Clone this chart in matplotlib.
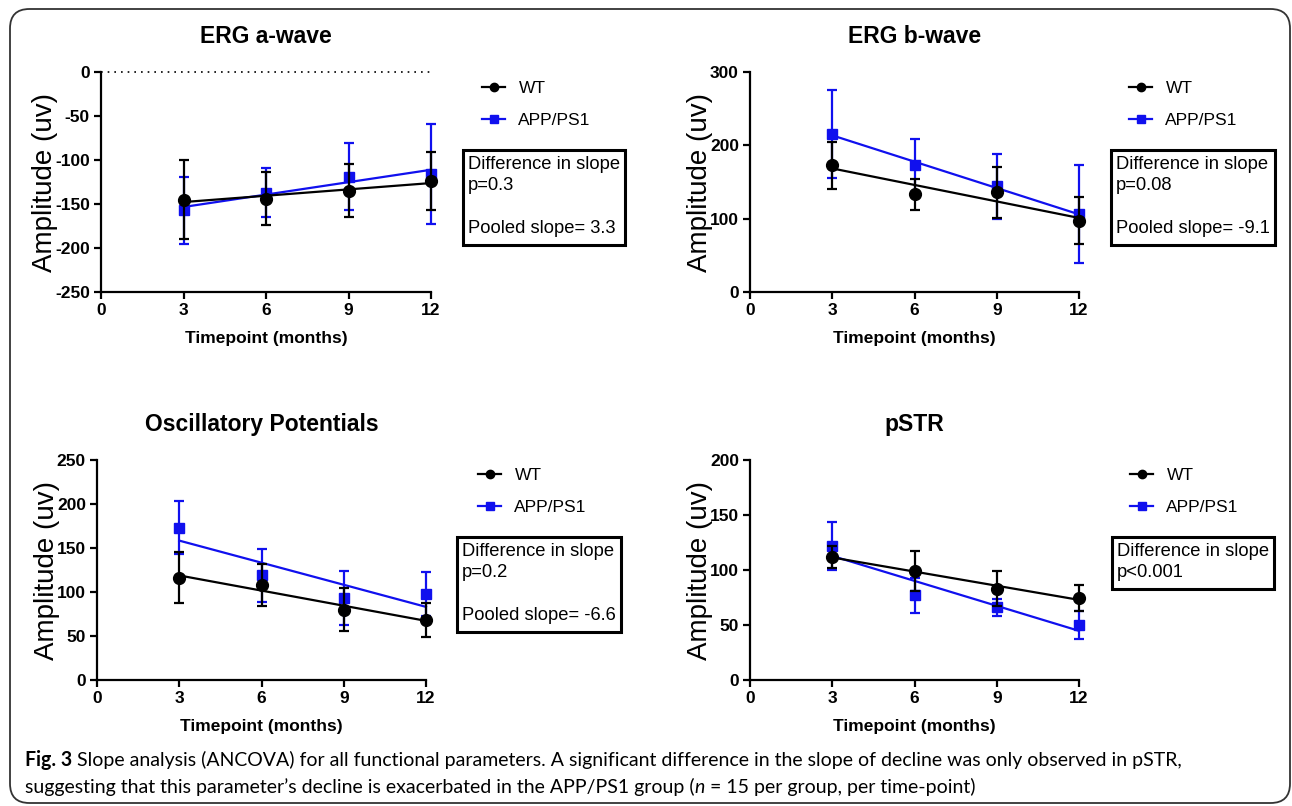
import numpy as np
import matplotlib
matplotlib.use("Agg")
import matplotlib.pyplot as plt
from matplotlib.lines import Line2D
from matplotlib.patches import FancyBboxPatch, Rectangle
from matplotlib import font_manager

# ---------------- data ----------------
timepoints = [3, 6, 9, 12]
series_names = ["WT", "APP/PS1"]

awave_wt = [-145, -144, -135, -124]
awave_wt_err = [45, 30, 30, 33]
awave_app = [-157, -137, -119, -116]
awave_app_err = [38, 28, 38, 57]

bwave_wt = [173, 133, 136, 97]
bwave_wt_err = [32, 21, 35, 32]
bwave_app = [216, 173, 144, 106]
bwave_app_err = [60, 36, 44, 67]

op_wt = [116, 108, 80, 68]
op_wt_err = [29, 24, 24, 19]
op_app = [173, 119, 93, 98]
op_app_err = [30, 30, 31, 25]

pstr_wt = [112, 99, 83, 74.5]
pstr_wt_err = [10, 18, 16, 12]
pstr_app = [122, 77, 66, 50]
pstr_app_err = [22, 16, 8, 13]

titles = ["ERG a-wave", "ERG b-wave", "Oscillatory Potentials", "pSTR"]
stats_texts = [
    "Difference in slope\np=0.3\n\nPooled slope= 3.3",
    "Difference in slope\np=0.08\n\nPooled slope= -9.1",
    "Difference in slope\np=0.2\n\nPooled slope= -6.6",
    "Difference in slope\np<0.001",
]
ylims = [(-250, 0), (0, 300), (0, 250), (0, 200)]
yticks = [[-250, -200, -150, -100, -50, 0], [0, 100, 200, 300],
          [0, 50, 100, 150, 200, 250], [0, 50, 100, 150, 200]]
xticks = [0, 3, 6, 9, 12]

# ---------------- layout ----------------
W, H = 1292, 806
plt.rcParams['font.family'] = ['Liberation Sans', 'DejaVu Sans']
plt.rcParams['axes.unicode_minus'] = False
fig = plt.figure(figsize=(W / 100, H / 100), dpi=100)
renderer = fig.canvas.get_renderer()

def fx(px):
    return px / W

def fy(py):
    return 1 - py / H

# axes rects in pixels: (left, top, right, bottom)
rects = [(101, 72, 431, 292), (750, 72, 1079, 292),
         (97, 460, 426, 680), (750, 460, 1079, 680)]
legend_pos = [(482, 81), (1129, 81), (478, 468), (1130, 468)]
box_pos = [(468, 156), (1116, 156), (462, 543), (1117, 543)]

BLUE = "#1010ee"
data = [
    (awave_wt, awave_wt_err, awave_app, awave_app_err),
    (bwave_wt, bwave_wt_err, bwave_app, bwave_app_err),
    (op_wt, op_wt_err, op_app, op_app_err),
    (pstr_wt, pstr_wt_err, pstr_app, pstr_app_err),
]

x = np.array(timepoints, dtype=float)
for i, (l, t, r, b) in enumerate(rects):
    ax = fig.add_axes([fx(l), fy(b), fx(r - l), (b - t) / H])
    wt, wte, app, appe = data[i]
    for vals, errs, color, marker, ms, z in [
        (app, appe, BLUE, "s", 7.5, 3),
        (wt, wte, "black", "o", 8.5, 4),
    ]:
        vals = np.array(vals, dtype=float)
        ax.errorbar(x, vals, yerr=errs, fmt=marker, color=color, ms=ms,
                    ecolor=color, elinewidth=1.6, capsize=3.8, capthick=1.6,
                    clip_on=False, zorder=z)
        k, c = np.polyfit(x, vals, 1)
        xx = np.array([x.min(), x.max()])
        ax.plot(xx, k * xx + c, color=color, lw=1.6, clip_on=False, zorder=z)
    if i == 0:
        ax.plot([0, 12], [0, 0], color="black", lw=1.2, ls=(0, (1, 3)),
                clip_on=False, zorder=1)
    ax.set_xlim(0, 12)
    ax.set_ylim(*ylims[i])
    ax.set_xticks(xticks)
    ax.set_yticks(yticks[i])
    for s in ["top", "right"]:
        ax.spines[s].set_visible(False)
    for s in ["left", "bottom"]:
        ax.spines[s].set_linewidth(1.6)
    ax.tick_params(width=1.6, length=5, labelsize=12.5, pad=3)
    for lab in ax.get_xticklabels() + ax.get_yticklabels():
        lab.set_fontweight("bold")
    ax.set_xlabel("Timepoint (months)", fontsize=12.5, fontweight="bold", labelpad=9)
    ax.set_ylabel("Amplitude (uv)", fontsize=20, labelpad=-2)
    ax.set_title(titles[i], fontsize=16.5, fontweight="bold", pad=21)

    handles = [
        Line2D([], [], color="black", marker="o", ms=6, lw=1.6),
        Line2D([], [], color=BLUE, marker="s", ms=5.5, lw=1.6),
    ]
    lx, ly = legend_pos[i]
    ax.legend(handles, series_names, loc="upper left",
              bbox_to_anchor=(fx(lx), fy(ly)), bbox_transform=fig.transFigure,
              frameon=False, fontsize=12.5, handlelength=1.35,
              handletextpad=0.75, labelspacing=0.95, borderpad=0,
              borderaxespad=0)
    bx, by = box_pos[i]
    txt = fig.text(fx(bx), fy(by), stats_texts[i], fontsize=13.2, va="top",
                   ha="left", linespacing=1.33, zorder=5)
    bb = txt.get_window_extent(renderer=renderer)
    # box drawn around the text extent (pixel padding)
    x0, x1 = bb.x0 - 5, bb.x1 + 5
    ytop = bb.y1 + 6
    ybot = bb.y0 - 8
    fig.patches.append(Rectangle((x0 / W, ybot / H), (x1 - x0) / W,
                                 (ytop - ybot) / H, transform=fig.transFigure,
                                 fc="white", ec="black", lw=2.2, zorder=4))

# ---------------- caption ----------------
available = {f.name for f in font_manager.fontManager.ttflist}
cap_font = "Liberation Sans Narrow" if "Liberation Sans Narrow" in available else "Lato"

def put(xpx, ypx, s, size, **kw):
    t = fig.text(fx(xpx), fy(ypx), s, fontsize=size, family=cap_font,
                 va="baseline", ha="left", **kw)
    bb = t.get_window_extent(renderer=renderer)
    return t, bb.x1

cap_size = 14.5
line1a = "Fig. 3"
line1b = " Slope analysis (ANCOVA) for all functional parameters. A significant difference in the slope of decline was only observed in pSTR,"
line2a = "suggesting that this parameter\u2019s decline is exacerbated in the APP/PS1 group ("
line2b = "n"
line2c = " = 15 per group, per time-point)"

# fit caption size to target width
t, xe = put(25, 766, line1a, cap_size, fontweight="bold")
t2, xe2 = put(xe, 766, line1b, cap_size)
total = xe2 - 25
t.remove(); t2.remove()
cap_size = cap_size * 1158 / total

_, xe = put(25, 766, line1a, cap_size, fontweight="bold")
put(xe, 766, line1b, cap_size)
_, xe = put(25, 793, line2a, cap_size)
_, xe = put(xe, 793, line2b, cap_size, style="italic")
put(xe, 793, line2c, cap_size)

# outer rounded frame
frame = FancyBboxPatch((fx(10), fy(803)), fx(1280), (803 - 9) / H,
                       boxstyle="round,pad=0,rounding_size=0.015",
                       transform=fig.transFigure, fc="none", ec="#333333",
                       lw=1.3, mutation_aspect=W / H)
fig.patches.append(frame)

fig.savefig("out.png", dpi=100)
